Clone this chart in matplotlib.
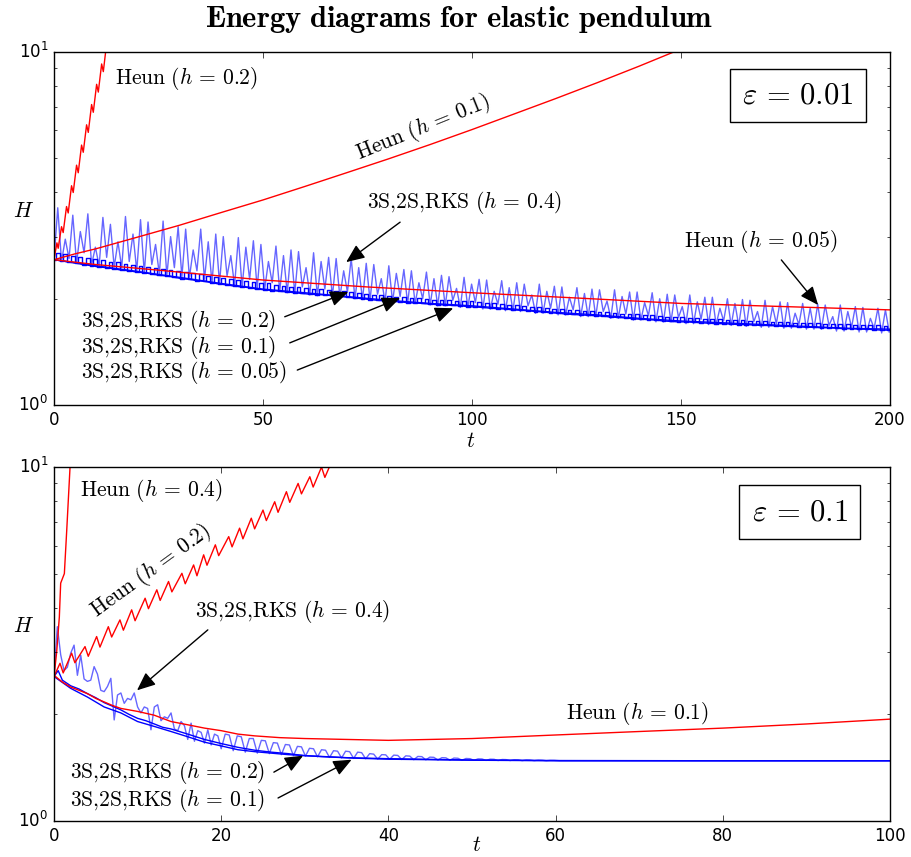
import numpy as np
import matplotlib
matplotlib.use('Agg')
import matplotlib.pyplot as plt
from matplotlib import ticker

plt.style.use('classic')
plt.rcParams['mathtext.fontset'] = 'cm'
plt.rcParams['figure.facecolor'] = 'white'
plt.rcParams['savefig.facecolor'] = 'white'

# ----- eps = 0.01, t in [0, 200] -----
top_step = 1.8          # one period of the energy oscillation (troughs on grid, peaks half way)
top_grid = np.arange(112) * top_step

# 3S,2S,RKS h=0.05 (lowest, smooth)
top_rk_005 = [2.58, 2.56, 2.54, 2.52, 2.50, 2.48,
              2.46, 2.45, 2.43, 2.41, 2.40, 2.38,
              2.37, 2.35, 2.33, 2.32, 2.30,
              2.28, 2.27, 2.25, 2.24, 2.22, 2.20,
              2.19, 2.17, 2.16, 2.15, 2.13,
              2.12, 2.11, 2.10, 2.09, 2.08, 2.07,
              2.06, 2.055, 2.05, 2.04, 2.03,
              2.02, 2.01, 2.00, 1.99, 1.98, 1.97,
              1.965, 1.96, 1.95, 1.945, 1.94,
              1.93, 1.925, 1.92, 1.915, 1.91, 1.90,
              1.895, 1.89, 1.88, 1.875, 1.87, 1.86,
              1.855, 1.85, 1.84, 1.835, 1.825,
              1.82, 1.81, 1.805, 1.80, 1.795, 1.79,
              1.785, 1.775, 1.77, 1.765, 1.755,
              1.75, 1.745, 1.74, 1.73, 1.725, 1.72,
              1.72, 1.715, 1.71, 1.705, 1.70,
              1.70, 1.695, 1.69, 1.69, 1.685, 1.68,
              1.68, 1.675, 1.67, 1.67, 1.665,
              1.66, 1.66, 1.655, 1.655, 1.65, 1.645,
              1.645, 1.64, 1.64, 1.635, 1.63, 1.63]

# 3S,2S,RKS h=0.1 (just above h=0.05)
top_rk_01_t = [0, 10, 20, 30, 40, 50, 60, 70, 80, 90, 100,
               110, 120, 130, 140, 150, 160, 170, 180, 190, 200]
top_rk_01 = [2.58, 2.48, 2.39, 2.30, 2.21, 2.13, 2.08, 2.03, 1.98, 1.94, 1.91,
             1.87, 1.83, 1.80, 1.76, 1.73, 1.71, 1.69, 1.67, 1.65, 1.64]

# 3S,2S,RKS h=0.2: square bumps, top level (bottom level = h=0.05 curve)
top_rk_02_hi = [2.69, 2.67, 2.65, 2.63, 2.61, 2.585, 2.57, 2.55, 2.535, 2.515,
                2.495, 2.48, 2.465, 2.445, 2.425, 2.41, 2.395, 2.38, 2.365, 2.345,
                2.32, 2.305, 2.29, 2.275, 2.26, 2.245, 2.23, 2.22, 2.21, 2.19,
                2.17, 2.165, 2.155, 2.145, 2.135, 2.13, 2.12, 2.11, 2.10, 2.09,
                2.075, 2.065, 2.055, 2.045, 2.035, 2.025, 2.02, 2.01, 2.005, 2.00,
                1.99, 1.985, 1.98, 1.975, 1.97, 1.965, 1.955, 1.95, 1.94, 1.935,
                1.92, 1.915, 1.905, 1.90, 1.89, 1.88, 1.875, 1.865, 1.86, 1.855,
                1.85, 1.845, 1.84, 1.83, 1.825, 1.815, 1.81, 1.805, 1.80, 1.795,
                1.785, 1.78, 1.775, 1.77, 1.765, 1.76, 1.755, 1.75, 1.748, 1.745,
                1.74, 1.737, 1.733, 1.73, 1.727, 1.723, 1.72, 1.717, 1.713, 1.71,
                1.705, 1.702, 1.70, 1.697, 1.695, 1.692, 1.69, 1.687, 1.684, 1.68, 1.677]

# 3S,2S,RKS h=0.4: troughs and peaks of the large oscillation
top_rk_04_lo = [2.58,
                2.55, 2.60, 2.52, 2.70, 2.50, 2.48, 2.62, 2.46, 2.45, 2.55,
                2.40, 2.37, 2.50, 2.35, 2.33, 2.45, 2.31, 2.30, 2.40, 2.27,
                2.22, 2.21, 2.32, 2.18, 2.16, 2.27, 2.14, 2.13, 2.22, 2.10,
                2.08, 2.07, 2.16, 2.05, 2.04, 2.13, 2.03, 2.02, 2.09, 2.00,
                1.99, 1.98, 2.06, 1.96, 1.96, 2.03, 1.94, 1.94, 2.00, 1.92,
                1.91, 1.91, 1.98, 1.89, 1.89, 1.95, 1.87, 1.87, 1.93, 1.85,
                1.85, 1.84, 1.91, 1.82, 1.82, 1.88, 1.80, 1.80, 1.86, 1.78,
                1.78, 1.78, 1.84, 1.76, 1.76, 1.81, 1.74, 1.74, 1.79, 1.72,
                1.72, 1.72, 1.77, 1.70, 1.70, 1.75, 1.69, 1.69, 1.73, 1.68,
                1.68, 1.67, 1.72, 1.66, 1.66, 1.70, 1.65, 1.65, 1.69, 1.64,
                1.64, 1.64, 1.68, 1.62, 1.62, 1.66, 1.61, 1.61, 1.65, 1.60, 1.61]
top_rk_04_hi = [3.62, 2.95, 3.45, 3.10, 3.48, 2.80, 3.40, 3.25, 2.90, 3.42,
                3.05, 3.35, 3.30, 2.85, 3.32, 3.00, 3.20, 3.15, 2.75, 3.15,
                2.90, 3.05, 3.00, 2.65, 2.98, 2.80, 2.92, 2.85, 2.55, 2.82,
                2.65, 2.75, 2.72, 2.45, 2.70, 2.55, 2.62, 2.60, 2.40, 2.60,
                2.45, 2.52, 2.50, 2.28, 2.48, 2.36, 2.42, 2.40, 2.22, 2.38,
                2.28, 2.33, 2.31, 2.14, 2.30, 2.20, 2.27, 2.26, 2.10, 2.25,
                2.15, 2.22, 2.20, 2.05, 2.20, 2.10, 2.17, 2.16, 2.02, 2.15,
                2.07, 2.13, 2.12, 1.97, 2.12, 2.03, 2.09, 2.09, 1.95, 2.08,
                2.00, 2.06, 2.05, 1.90, 2.05, 1.96, 2.02, 2.02, 1.88, 2.00,
                1.94, 1.99, 1.98, 1.84, 1.98, 1.90, 1.96, 1.95, 1.82, 1.94,
                1.88, 1.93, 1.92, 1.78, 1.92, 1.84, 1.90, 1.89, 1.76, 1.88, 1.86]

top_heun_005_t = [0, 10, 25, 50, 75, 100, 125, 150, 175, 200]
top_heun_005 = [2.58, 2.50, 2.41, 2.26, 2.16, 2.08, 2.01, 1.94, 1.90, 1.86]

top_heun_01_t = [0, 5, 10, 20, 30, 40, 50, 60, 70, 80, 90, 100,
                 110, 120, 130, 140, 150, 155]
top_heun_01 = [2.58, 2.68, 2.77, 2.99, 3.23, 3.51, 3.81, 4.16, 4.55, 4.98, 5.47, 6.03,
               6.67, 7.38, 8.19, 9.12, 10.2, 10.8]

top_heun_02_t = [0, 0.7, 1.0, 1.8, 2.2, 3.0, 3.4, 4.2, 4.6, 5.4, 5.8,
                 6.6, 7.0, 7.8, 8.2, 9.0, 9.4, 10.2, 10.6, 11.4, 11.8, 12.6]
top_heun_02 = [2.58, 2.88, 2.78, 3.20, 3.08, 3.65, 3.50, 4.18, 4.00, 4.78, 4.55,
               5.45, 5.20, 6.22, 5.92, 7.10, 6.75, 8.10, 7.70, 9.25, 8.80, 10.6]

# ----- eps = 0.1, t in [0, 100] -----
bot_rk_01_t = [0, 2, 4, 6, 8, 10, 12, 14, 16, 18, 20, 22, 24, 28, 32, 36, 40, 50, 60, 80, 100]
bot_rk_01 = [2.56, 2.37, 2.24, 2.10, 2.02, 1.91, 1.85, 1.79, 1.73, 1.67, 1.63,
             1.59, 1.57, 1.54, 1.52, 1.505, 1.495, 1.485, 1.48, 1.48, 1.48]

bot_rk_02_t = [0, 0.5, 1, 2, 3, 4, 5, 6, 7, 8, 9, 10, 11, 12, 13, 14, 16, 18, 20,
               22, 24, 26, 28, 30, 35, 40, 50, 60, 80, 100]
bot_rk_02 = [2.56, 2.66, 2.50, 2.41, 2.36, 2.29, 2.23, 2.16, 2.11, 2.06, 2.00, 1.95,
             1.92, 1.88, 1.84, 1.82, 1.76, 1.70, 1.655, 1.615, 1.585, 1.565, 1.55,
             1.53, 1.51, 1.50, 1.487, 1.482, 1.48, 1.48]

# h=0.4: early part sampled every 0.4
bot_early_step = 0.4
bot_rk_04_early = [2.56, 3.54, 2.95, 2.66, 2.72, 2.98, 3.14, 2.58, 2.94, 2.52,
                   2.48, 2.50, 2.73, 2.60, 2.34, 2.32, 2.40, 2.53, 1.93, 2.27,
                   2.30, 2.15, 2.22, 2.20, 2.30, 2.10, 2.02, 2.10, 2.08, 1.81,
                   2.10, 2.13, 1.92, 1.97, 1.95, 2.02, 1.82, 1.80, 1.91, 1.86,
                   1.70, 1.89, 1.68, 1.80, 1.78, 1.66, 1.81, 1.64, 1.76, 1.74]
# h=0.4: domes from t=20 (trough, top, top per cycle)
bot_dome_start = 20.0
bot_dome_step = 0.48
bot_rk_04_domes = [1.60, 1.76, 1.75, 1.58, 1.74, 1.73, 1.565, 1.71, 1.71,
                   1.555, 1.69, 1.685, 1.55, 1.665, 1.66, 1.54, 1.645, 1.64,
                   1.53, 1.625, 1.62, 1.525, 1.605, 1.60, 1.518, 1.59, 1.585,
                   1.512, 1.58, 1.575, 1.507, 1.575, 1.57, 1.503, 1.565, 1.56,
                   1.499, 1.55, 1.545, 1.496, 1.54, 1.538, 1.494, 1.535, 1.532,
                   1.492, 1.528, 1.525, 1.49, 1.522, 1.52, 1.489, 1.515, 1.513,
                   1.487, 1.51, 1.508, 1.486, 1.506, 1.504, 1.485, 1.502, 1.50,
                   1.484, 1.498, 1.497, 1.483, 1.495, 1.494, 1.482, 1.492, 1.491,
                   1.482, 1.49, 1.489, 1.481, 1.488, 1.487, 1.481, 1.486, 1.485,
                   1.48, 1.484, 1.484]
bot_rk_04_tail_t = [60.5, 70, 80, 90, 100]
bot_rk_04_tail = [1.48, 1.48, 1.48, 1.48, 1.48]

bot_heun_01_t = [0, 1, 2, 3, 4, 5, 6, 7, 8, 9, 10, 12, 14, 16, 18, 20, 22, 24, 27, 30,
                 35, 40, 45, 50, 55, 60, 70, 80, 90, 100]
bot_heun_01 = [2.58, 2.47, 2.39, 2.34, 2.29, 2.22, 2.17, 2.12, 2.08, 2.06, 2.04, 1.99,
               1.91, 1.87, 1.83, 1.80, 1.76, 1.74, 1.72, 1.71, 1.70, 1.69, 1.70, 1.71,
               1.73, 1.75, 1.79, 1.83, 1.88, 1.94]

bot_heun_02_t = [0, 0.72, 1.1, 2.11, 2.5, 3.71, 4.1, 5.10, 5.5, 6.50, 6.9, 7.89, 8.3,
                 9.29, 9.7, 10.9, 11.3, 12.3, 12.7, 13.7, 14.1, 15.3, 15.7, 16.7, 17.1,
                 17.9, 18.3, 19.3, 19.7, 20.9, 21.3, 22.2, 22.6, 23.6, 24.0, 25.0, 25.4,
                 26.4, 26.8, 27.8, 28.2, 29.2, 29.6, 30.6, 31.0, 32.0, 32.4, 33.4]
bot_heun_02 = [2.56, 2.79, 2.62, 2.98, 2.80, 3.11, 2.92, 3.32, 3.10, 3.54, 3.31, 3.70,
               3.46, 3.95, 3.68, 4.26, 3.98, 4.50, 4.20, 4.75, 4.44, 5.01, 4.68, 5.29,
               4.93, 5.65, 5.28, 6.03, 5.62, 6.36, 5.95, 6.72, 6.27, 7.17, 6.69, 7.56,
               7.06, 7.98, 7.45, 8.52, 7.95, 8.99, 8.40, 9.39, 8.78, 10.0, 9.35, 10.6]

bot_heun_04_t = [0, 0.32, 0.64, 0.8, 1.24, 1.52, 1.91, 2.3]
bot_heun_04 = [2.56, 3.0, 3.77, 4.7, 5.0, 6.6, 9.9, 14.0]


def interleave(lo, hi):
    h = np.empty(len(lo) + len(hi))
    h[0::2] = lo
    h[1::2] = hi
    return h


light = dict(color='b', alpha=0.6, lw=1)
arrow_props = dict(arrowstyle='-|>,head_length=0.7,head_width=0.3', color='k', lw=1,
                   shrinkA=0, shrinkB=0, mutation_scale=16)
fs = 15.5


def label(ax, x, y, s, **kw):
    ax.text(x, y, s, transform=ax.transAxes, fontsize=fs, va='center', **kw)


def arrow(ax, start, tip):
    ax.annotate('', xy=tip, xycoords='data', xytext=start, textcoords='axes fraction',
                arrowprops=arrow_props)


def rks(h):
    return r'$\mathrm{3S{,}2S{,}RKS}\ (h\,=\,%s)$' % h


def heun(h):
    return r'$\mathrm{Heun}\ (h\,=\,%s)$' % h


def setup(ax, tmax, ticks):
    ax.set_yscale('log')
    ax.set_ylim(1, 10)
    ax.set_xlim(0, tmax)
    ax.set_xticks(ticks)
    ax.yaxis.set_minor_formatter(ticker.NullFormatter())
    ax.set_ylabel(r'$H$', fontsize=fs, rotation=0, ha='center', va='center')
    ax.yaxis.set_label_coords(-0.037, 0.55)


fig = plt.figure(figsize=(9.12, 8.57), dpi=100)
ax1 = fig.add_axes([0.0592, 0.5274, 0.9167, 0.4119])
ax2 = fig.add_axes([0.0592, 0.042, 0.9167, 0.413])

# ---- top panel ----
t04 = np.arange(len(top_rk_04_lo) + len(top_rk_04_hi)) * top_step / 2
ax1.plot(t04, interleave(top_rk_04_lo, top_rk_04_hi), **light)
t02 = np.arange(len(top_rk_005) + len(top_rk_02_hi)) * top_step / 2
ax1.plot(t02, interleave(top_rk_005, top_rk_02_hi), 'b-', lw=1, drawstyle='steps-mid')
ax1.plot(top_rk_01_t, top_rk_01, 'b-', lw=1)
ax1.plot(top_grid, top_rk_005, 'b-', lw=1)
ax1.plot(top_heun_005_t, top_heun_005, 'r-', lw=1)
ax1.plot(top_heun_01_t, top_heun_01, 'r-', lw=1)
ax1.plot(top_heun_02_t, top_heun_02, 'r-', lw=1)
setup(ax1, 200, [0, 50, 100, 150, 200])
ax1.set_xlabel(r'$t$', fontsize=fs, va='center')
ax1.xaxis.set_label_coords(0.498, -0.102)

label(ax1, 0.073, 0.926, heun('0.2'))
label(ax1, 0.442, 0.785, heun('0.1'), ha='center', rotation=22)
label(ax1, 0.374, 0.575, rks('0.4'))
arrow(ax1, (0.414, 0.518), (69.9, 2.54))
label(ax1, 0.754, 0.462, heun('0.05'))
arrow(ax1, (0.870, 0.411), (182.8, 1.92))
label(ax1, 0.032, 0.238, rks('0.2'))
arrow(ax1, (0.276, 0.250), (70.4, 2.09))
label(ax1, 0.032, 0.164, rks('0.1'))
arrow(ax1, (0.282, 0.176), (82.8, 2.01))
label(ax1, 0.032, 0.091, rks('0.05'))
arrow(ax1, (0.291, 0.099), (95.5, 1.88))
ax1.text(0.890, 0.877, r'$\varepsilon\,=\,0.01$', transform=ax1.transAxes, fontsize=22,
         ha='center', va='center',
         bbox=dict(boxstyle='square,pad=0.4', fc='white', ec='k', lw=1))

# ---- bottom panel ----
tA = np.arange(len(bot_rk_04_early)) * bot_early_step
tB = bot_dome_start + np.arange(len(bot_rk_04_domes)) * bot_dome_step
ax2.plot(np.concatenate([tA, tB, bot_rk_04_tail_t]),
         np.concatenate([bot_rk_04_early, bot_rk_04_domes, bot_rk_04_tail]), **light)
ax2.plot(bot_rk_02_t, bot_rk_02, 'b-', lw=1)
ax2.plot(bot_rk_01_t, bot_rk_01, 'b-', lw=1)
ax2.plot(bot_heun_01_t, bot_heun_01, 'r-', lw=1)
ax2.plot(bot_heun_02_t, bot_heun_02, 'r-', lw=1)
ax2.plot(bot_heun_04_t, bot_heun_04, 'r-', lw=1)
setup(ax2, 100, [0, 20, 40, 60, 80, 100])
ax2.set_xlabel(r'$t$', fontsize=fs, va='center')
ax2.xaxis.set_label_coords(0.506, -0.068)

label(ax2, 0.031, 0.935, heun('0.4'))
label(ax2, 0.116, 0.706, heun('0.2'), ha='center', rotation=36)
label(ax2, 0.169, 0.591, rks('0.4'))
arrow(ax2, (0.184, 0.540), (9.93, 2.34))
label(ax2, 0.612, 0.305, heun('0.1'))
label(ax2, 0.019, 0.136, rks('0.2'))
arrow(ax2, (0.263, 0.138), (29.8, 1.53))
label(ax2, 0.019, 0.059, rks('0.1'))
arrow(ax2, (0.268, 0.065), (35.6, 1.49))
ax2.text(0.892, 0.873, r'$\varepsilon\,=\,0.1$', transform=ax2.transAxes, fontsize=22,
         ha='center', va='center',
         bbox=dict(boxstyle='square,pad=0.4', fc='white', ec='k', lw=1))

fig.text(0.503, 0.977, r'$\mathbf{Energy\ diagrams\ for\ elastic\ pendulum}$',
         ha='center', va='center', fontsize=22)

fig.savefig('out.png', dpi=100)
